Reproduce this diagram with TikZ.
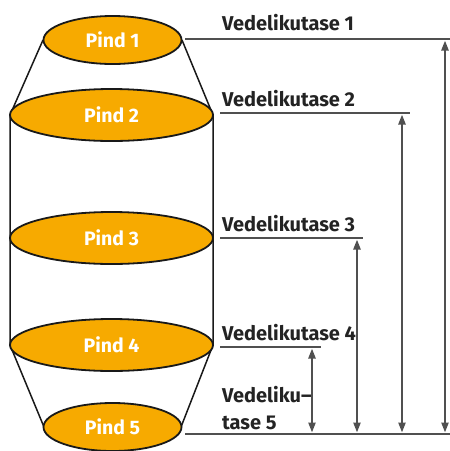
\documentclass[tikz,border=0pt]{standalone}
\usepackage{fontspec}
\setmainfont{Fira Sans}
\usetikzlibrary{shapes.geometric,arrows.meta}
\definecolor{pindfill}{RGB}{247,170,0}
\definecolor{lvl}{RGB}{80,80,80}
\definecolor{txt}{RGB}{35,35,35}
\begin{document}
\begin{tikzpicture}[x=1pt,y=-1pt,
  pind/.style={ellipse,draw=black!90,line width=1.8pt,fill=pindfill,inner sep=0pt,
    text=white,font=\fontsize{19.5}{21}\selectfont\bfseries},
  small/.style={pind,minimum width=138pt,minimum height=48pt},
  big/.style={pind,minimum width=203pt,minimum height=52pt},
  wall/.style={draw=black!90,line width=1.5pt},
  level/.style={draw=lvl,line width=2.5pt},
  meas/.style={draw=lvl,line width=2.2pt,{Triangle[width=7pt,length=10pt]}-{Triangle[width=7pt,length=10pt]}},
  lab/.style={anchor=base west,inner sep=0pt,text=txt,font=\fontsize{20}{22}\selectfont\bfseries}]
\useasboundingbox (0,0) rectangle (450,451);
% walls
\coordinate (w1l) at (43,40); \coordinate (w1r) at (182,40);
\coordinate (w2l) at (10,115); \coordinate (w2r) at (213,115);
\coordinate (w4l) at (10,345); \coordinate (w4r) at (213,345);
\coordinate (w5l) at (44,427); \coordinate (w5r) at (181,427);
\draw[wall] (w1l) -- (w2l) -- (w4l) -- (w5l);
\draw[wall] (w1r) -- (w2r) -- (w4r) -- (w5r);
% discs
\node[small] (p1) at (112.5,40) {Pind 1};
\node[big] (p2) at (111.5,115) {Pind 2};
\node[big] (p3) at (111.5,238) {Pind 3};
\node[big] (p4) at (111.5,345) {Pind 4};
\node[small] (p5) at (112.5,427) {Pind 5};
% level lines
\coordinate (l1a) at (185,39); \coordinate (l1b) at (450,39);
\coordinate (l2a) at (220,113); \coordinate (l2b) at (410,113);
\coordinate (l3a) at (220,238); \coordinate (l3b) at (363,238);
\coordinate (l4a) at (220,347); \coordinate (l4b) at (321,347);
\coordinate (l5a) at (185,434); \coordinate (l5b) at (450,434);
\draw[level] (l1a) -- (l1b);
\draw[level] (l2a) -- (l2b);
\draw[level] (l3a) -- (l3b);
\draw[level] (l4a) -- (l4b);
\draw[level] (l5a) -- (l5b);
% measurement arrows
\coordinate (a1t) at (445,40.5); \coordinate (a1b) at (445,432.5);
\coordinate (a2t) at (402,114.5); \coordinate (a2b) at (402,432.5);
\coordinate (a3t) at (357,239.5); \coordinate (a3b) at (357,432.5);
\coordinate (a4t) at (312,348.5); \coordinate (a4b) at (312,432.5);
\draw[meas] (a1b) -- (a1t);
\draw[meas] (a2b) -- (a2t);
\draw[meas] (a3b) -- (a3t);
\draw[meas] (a4b) -- (a4t);
% labels
\node[lab] (t1) at (222,30) {Vedelikutase 1};
\node[lab] (t2) at (222,106) {Vedelikutase 2};
\node[lab] (t3) at (222,231) {Vedelikutase 3};
\node[lab] (t4) at (222,340) {Vedelikutase 4};
\node[lab] (t5a) at (222,402) {Vedeliku--};
\node[lab] (t5b) at (222,429) {tase 5};
\end{tikzpicture}
\end{document}
